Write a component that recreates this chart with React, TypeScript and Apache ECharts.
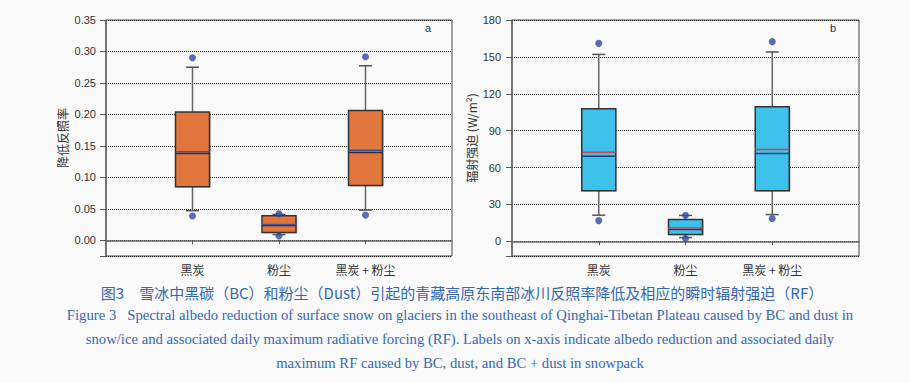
import React, { useEffect, useRef } from "react";
import * as echarts from "echarts";

const categories = ["黑炭", "粉尘", "黑炭 + 粉尘"];

// Panel a: albedo reduction
const albedoTicks = [0, 0.05, 0.1, 0.15, 0.2, 0.25, 0.3, 0.35];
const albedoWhiskerLow = [0.047, 0.009, 0.048];
const albedoQ1 = [0.085, 0.0122, 0.087];
const albedoMedian = [0.138, 0.0235, 0.1395];
const albedoMean = [0.1405, 0.025, 0.143];
const albedoQ3 = [0.204, 0.039, 0.2063];
const albedoWhiskerHigh = [0.275, 0.041, 0.2773];
const albedoOutliers = [
  [0.29, 0.0387],
  [0.042, 0.0069],
  [0.2917, 0.04],
];

// Panel b: radiative forcing (W/m2)
const rfTicks = [0, 30, 60, 90, 120, 150, 180];
const rfWhiskerLow = [21.2, 3, 21.7];
const rfQ1 = [41, 5.5, 41];
const rfMedian = [69.2, 9.5, 71.4];
const rfMean = [72.5, 10.8, 74.7];
const rfQ3 = [107.8, 17.7, 109.4];
const rfWhiskerHigh = [152, 21, 154];
const rfOutliers = [
  [161, 16.8],
  [21.2, 2.2],
  [162.4, 18.5],
];

const captionCn =
  "图3　雪冰中黑碳（BC）和粉尘（Dust）引起的青藏高原东南部冰川反照率降低及相应的瞬时辐射强迫（RF）";
const captionEn = [
  "Figure 3   Spectral albedo reduction of surface snow on glaciers in the southeast of Qinghai-Tibetan Plateau caused by BC and dust in",
  "snow/ice and associated daily maximum radiative forcing (RF). Labels on x-axis indicate albedo reduction and associated daily",
  "maximum RF caused by BC, dust, and BC + dust in snowpack",
];

const axisCats = ["", ...categories, ""];

function boxData(low: number[], q1: number[], med: number[], mean: number[], q3: number[], high: number[]) {
  return categories.map((_, i) => [i + 1, low[i], q1[i], med[i], mean[i], q3[i], high[i]]);
}
function outlierData(out: number[][]) {
  const res: number[][] = [];
  out.forEach((vals, i) => vals.forEach((v) => res.push([i + 1, v])));
  return res;
}

function makeRender(fill: string, meanColor: string, medianColor: string) {
  return (params: any, api: any) => {
    const idx = api.value(0);
    const p = (v: number) => api.coord([idx, v]);
    const x = p(api.value(1))[0];
    const yLow = p(api.value(1))[1];
    const yQ1 = p(api.value(2))[1];
    const yMed = p(api.value(3))[1];
    const yMean = p(api.value(4))[1];
    const yQ3 = p(api.value(5))[1];
    const yHigh = p(api.value(6))[1];
    const hw = 17;
    const cap = 6.5;
    const wStyle = { stroke: "#666", lineWidth: 1.5 };
    return {
      type: "group",
      children: [
        { type: "line", shape: { x1: x, y1: yLow, x2: x, y2: yQ1 }, style: wStyle },
        { type: "line", shape: { x1: x, y1: yQ3, x2: x, y2: yHigh }, style: wStyle },
        { type: "line", shape: { x1: x - cap, y1: yLow, x2: x + cap, y2: yLow }, style: { stroke: "#555", lineWidth: 1.5 } },
        { type: "line", shape: { x1: x - cap, y1: yHigh, x2: x + cap, y2: yHigh }, style: { stroke: "#555", lineWidth: 1.5 } },
        {
          type: "rect",
          shape: { x: x - hw + 1.5, y: yQ3 + 1, width: 2 * hw, height: yQ1 - yQ3 },
          style: { fill: "rgba(0,0,0,0.18)" },
        },
        {
          type: "rect",
          shape: { x: x - hw, y: yQ3, width: 2 * hw, height: yQ1 - yQ3 },
          style: { fill, stroke: "#333", lineWidth: 1.5 },
        },
        { type: "line", shape: { x1: x - hw, y1: yMed, x2: x + hw, y2: yMed }, style: { stroke: medianColor, lineWidth: 1.5 } },
        { type: "line", shape: { x1: x - hw, y1: yMean, x2: x + hw, y2: yMean }, style: { stroke: meanColor, lineWidth: 1.5 } },
      ],
    };
  };
}

const sans = "'Liberation Sans', Arial, sans-serif";
const cjk = "'Noto Sans CJK SC', sans-serif";

function xAxisCfg(gridIndex: number) {
  return {
    type: "category",
    gridIndex,
    data: axisCats,
    boundaryGap: false,
    axisLine: { lineStyle: { color: "#666", width: 1.5 } },
    axisTick: { interval: (i: number) => i > 0 && i < 4, length: 4, lineStyle: { color: "#555" } },
    axisLabel: { interval: 0, margin: 7, fontSize: 12, color: "#333", fontFamily: cjk },
    splitLine: { show: false },
  };
}

function yAxisCfg(gridIndex: number, min: number, max: number, ticks: number[], name: string, fmt: (v: number) => string, margin: number, gap: number) {
  return {
    type: "value",
    gridIndex,
    min,
    max,
    name,
    nameLocation: "middle",
    nameGap: gap,
    nameRotate: 90,
    nameTextStyle: { fontSize: 12, color: "#333", fontFamily: cjk },
    axisLine: { show: true, lineStyle: { color: "#666", width: 1.5 } },
    axisTick: { show: true, length: 6, customValues: [min, ...ticks], lineStyle: { color: "#555" } },
    axisLabel: { customValues: ticks, formatter: fmt, margin, fontSize: 11, color: "#333", fontFamily: sans },
    splitLine: { show: true, lineStyle: { type: "dotted", color: "#222", width: 1 } },
  };
}

export default function App() {
  const ref = useRef<HTMLDivElement>(null);
  useEffect(() => {
    if (!ref.current) return;
    const chart = echarts.init(ref.current, null, { renderer: "svg" });
    const option: any = {
      animation: false,
      backgroundColor: "#f9f9f9",
      grid: [
        { left: 106, right: 458, top: 20, bottom: 127, show: true, borderColor: "#444", borderWidth: 1, backgroundColor: "transparent" },
        { left: 512, right: 51, top: 20, bottom: 127, show: true, borderColor: "#444", borderWidth: 1, backgroundColor: "transparent" },
      ],
      xAxis: [xAxisCfg(0), xAxisCfg(1)],
      yAxis: [
        yAxisCfg(0, -0.025, 0.35, albedoTicks, "降低反照率", (v) => v.toFixed(2), 10, 38),
        yAxisCfg(1, -12, 180, rfTicks, "辐射强迫 (W/m²)", (v) => String(v), 11, 35),
      ],
      series: [
        {
          type: "custom",
          xAxisIndex: 0,
          yAxisIndex: 0,
          renderItem: makeRender("#e0763c", "#3a4fa8", "#3a2c2c"),
          data: boxData(albedoWhiskerLow, albedoQ1, albedoMedian, albedoMean, albedoQ3, albedoWhiskerHigh),
          encode: { x: 0, y: [1, 2, 3, 4, 5, 6] },
          z: 2,
        },
        {
          type: "scatter",
          xAxisIndex: 0,
          yAxisIndex: 0,
          symbolSize: 7,
          itemStyle: { color: "#3247a5" },
          data: outlierData(albedoOutliers),
          z: 3,
        },
        {
          type: "custom",
          xAxisIndex: 1,
          yAxisIndex: 1,
          renderItem: makeRender("#3dc2ec", "#d4424c", "#24407a"),
          data: boxData(rfWhiskerLow, rfQ1, rfMedian, rfMean, rfQ3, rfWhiskerHigh),
          encode: { x: 0, y: [1, 2, 3, 4, 5, 6] },
          z: 2,
        },
        {
          type: "scatter",
          xAxisIndex: 1,
          yAxisIndex: 1,
          symbolSize: 7,
          itemStyle: { color: "#3247a5" },
          data: outlierData(rfOutliers),
          z: 3,
        },
      ],
      graphic: [
        { type: "text", x: 428, y: 28, style: { text: "a", fontSize: 11, fontFamily: sans, fill: "#333", align: "center", verticalAlign: "middle" } },
        { type: "text", x: 833, y: 28, style: { text: "b", fontSize: 11, fontFamily: sans, fill: "#333", align: "center", verticalAlign: "middle" } },
        { type: "text", x: 462, y: 292, style: { text: captionCn, fontSize: 15, fontFamily: cjk, fill: "#3468b4", align: "center", verticalAlign: "middle" } },
        ...captionEn.map((t, i) => ({
          type: "text",
          x: 460,
          y: 315 + i * 24,
          style: { text: t, fontSize: 14.7, fontFamily: "'Liberation Serif', 'Times New Roman', serif", fill: "#3468b4", align: "center", verticalAlign: "middle" },
        })),
      ],
    };
    chart.setOption(option);
    return () => chart.dispose();
  }, []);
  return <div ref={ref} style={{ position: "fixed", left: 0, top: 0, width: 910, height: 383 }} />;
}
